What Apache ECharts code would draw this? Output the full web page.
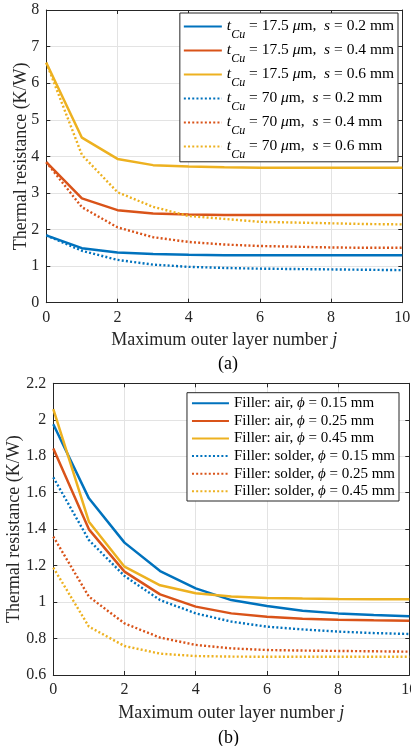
<!DOCTYPE html>
<html>
<head>
<meta charset="utf-8">
<script src="https://cdn.jsdelivr.net/npm/echarts@6/dist/echarts.min.js"></script>
<style>
html,body{margin:0;padding:0;background:#fff;}
#chart{width:411px;height:746px;}
</style>
</head>
<body>
<div id="chart"></div>
<script>
// ---- data ----
const jValues = [0, 1, 2, 3, 4, 5, 6, 7, 8, 9, 10];

// (a) thermal resistance vs j, by copper thickness tCu and spacing s
const topT = ['17.5', '17.5', '17.5', '70', '70', '70'];
const topS = ['0.2', '0.4', '0.6', '0.2', '0.4', '0.6'];
const a_t175_s02 = [1.84, 1.49, 1.37, 1.33, 1.31, 1.30, 1.30, 1.30, 1.30, 1.30, 1.30];
const a_t175_s04 = [3.84, 2.85, 2.53, 2.44, 2.41, 2.40, 2.40, 2.40, 2.40, 2.40, 2.40];
const a_t175_s06 = [6.56, 4.51, 3.93, 3.76, 3.72, 3.70, 3.69, 3.69, 3.69, 3.69, 3.69];
const a_t70_s02  = [1.84, 1.42, 1.17, 1.04, 0.98, 0.95, 0.93, 0.92, 0.91, 0.90, 0.89];
const a_t70_s04  = [3.84, 2.61, 2.06, 1.79, 1.66, 1.59, 1.55, 1.53, 1.51, 1.50, 1.50];
const a_t70_s06  = [6.56, 4.04, 3.02, 2.62, 2.37, 2.29, 2.21, 2.19, 2.17, 2.15, 2.14];
const topYTicks = {min: 0, max: 8, interval: 1};

// (b) thermal resistance vs j, by filler and diameter phi
const botFiller = ['air', 'air', 'air', 'solder', 'solder', 'solder'];
const botPhi = ['0.15', '0.25', '0.45', '0.15', '0.25', '0.45'];
const b_air_015 = [1.975, 1.569, 1.326, 1.170, 1.075, 1.011, 0.978, 0.953, 0.938, 0.929, 0.922];
const b_air_025 = [1.843, 1.399, 1.167, 1.042, 0.975, 0.938, 0.920, 0.909, 0.903, 0.900, 0.898];
const b_air_045 = [2.059, 1.441, 1.194, 1.092, 1.048, 1.030, 1.022, 1.019, 1.017, 1.016, 1.015];
const b_sol_015 = [1.684, 1.340, 1.143, 1.011, 0.938, 0.893, 0.865, 0.850, 0.838, 0.830, 0.825];
const b_sol_025 = [1.359, 1.030, 0.883, 0.805, 0.765, 0.746, 0.737, 0.734, 0.732, 0.730, 0.728];
const b_sol_045 = [1.189, 0.865, 0.759, 0.717, 0.704, 0.701, 0.700, 0.700, 0.700, 0.700, 0.700];
const botYTicks = {min: 0.6, max: 2.2, interval: 0.2};
const xTicks = {min: 0, max: 10, interval: 2};

// ---- styling ----
const FONT = "'Liberation Serif', 'Times New Roman', serif";
const COLORS = ['#0072BD', '#D95319', '#EDB120'];
const AX = '#262626';
const GRIDC = '#e3e3e3';

const topSeriesData = [a_t175_s02, a_t175_s04, a_t175_s06, a_t70_s02, a_t70_s04, a_t70_s06];
const botSeriesData = [b_air_015, b_air_025, b_air_045, b_sol_015, b_sol_025, b_sol_045];
const topNames = topT.map((t, k) => 'tCu = ' + t + ' μm, s = ' + topS[k] + ' mm');
const botNames = botFiller.map((f, k) => 'Filler: ' + f + ', ϕ = ' + botPhi[k] + ' mm');

function pairs(arr) { return jValues.map((j, k) => [j, arr[k]]); }

function mkX(gi, pos, main) {
  return {
    type: 'value', gridIndex: gi, position: pos,
    min: xTicks.min, max: xTicks.max, interval: xTicks.interval,
    axisLine: {show: true, onZero: false, lineStyle: {color: AX, width: 1}},
    axisTick: {show: true, inside: true, length: 4, lineStyle: {color: AX}},
    axisLabel: {show: main, color: AX, fontFamily: FONT, fontSize: 16, margin: 7},
    splitLine: {show: main, lineStyle: {color: GRIDC, width: 1}},
    name: main ? 'Maximum outer layer number {i|j}' : '',
    nameLocation: 'middle', nameGap: 29, nameMoveOverlap: false,
    nameTextStyle: {color: AX, fontFamily: FONT, fontSize: 18,
      rich: {i: {fontStyle: 'italic', fontFamily: FONT, fontSize: 18, color: AX}}}
  };
}
function mkY(gi, pos, main, t, gap) {
  return {
    type: 'value', gridIndex: gi, position: pos,
    min: t.min, max: t.max, interval: t.interval,
    axisLine: {show: true, onZero: false, lineStyle: {color: AX, width: 1}},
    axisTick: {show: true, inside: true, length: 4, lineStyle: {color: AX}},
    axisLabel: {show: main, color: AX, fontFamily: FONT, fontSize: 16, margin: 7},
    splitLine: {show: main, lineStyle: {color: GRIDC, width: 1}},
    name: main ? 'Thermal resistance (K/W)' : '',
    nameLocation: 'middle', nameGap: gap, nameMoveOverlap: false,
    nameTextStyle: {color: AX, fontFamily: FONT, fontSize: 18}
  };
}

const series = [];
topSeriesData.forEach((arr, k) => {
  series.push({
    name: topNames[k], type: 'line', xAxisIndex: 0, yAxisIndex: 0,
    data: pairs(arr), symbol: 'none', showSymbol: false,
    lineStyle: {color: COLORS[k % 3], width: k < 3 ? 2.5 : 2.4, type: k < 3 ? 'solid' : [2, 2.2]},
    itemStyle: {color: COLORS[k % 3]}
  });
});
botSeriesData.forEach((arr, k) => {
  series.push({
    name: botNames[k], type: 'line', xAxisIndex: 2, yAxisIndex: 2,
    data: pairs(arr), symbol: 'none', showSymbol: false,
    lineStyle: {color: COLORS[k % 3], width: k < 3 ? 2.5 : 2.4, type: k < 3 ? 'solid' : [2, 2.2]},
    itemStyle: {color: COLORS[k % 3]}
  });
});

const txtA = {fontFamily: FONT, fontSize: 15.5, color: '#000', lineHeight: 16};
const txtB = {fontFamily: FONT, fontSize: 15, color: '#000', lineHeight: 16};
const hiddenSymbol = {color: 'rgba(0,0,0,0)', borderWidth: 0, opacity: 0};

const option = {
  animation: false,
  backgroundColor: '#fff',
  title: [
    {text: '(a)', left: 213, top: 350, textStyle: {fontFamily: FONT, fontSize: 18, fontWeight: 'normal', color: '#000'}},
    {text: '(b)', left: 213, top: 724, textStyle: {fontFamily: FONT, fontSize: 18, fontWeight: 'normal', color: '#000'}}
  ],
  grid: [
    {left: 46.3, right: 8.7, top: 10, height: 292.7, outerBoundsMode: 'none', containLabel: false},
    {left: 53.3, right: 1.7, top: 383.3, height: 291.7, outerBoundsMode: 'none', containLabel: false}
  ],
  xAxis: [mkX(0, 'bottom', true), mkX(0, 'top', false), mkX(1, 'bottom', true), mkX(1, 'top', false)],
  yAxis: [mkY(0, 'left', true, topYTicks, 16), mkY(0, 'right', false, topYTicks, 16),
          mkY(1, 'left', true, botYTicks, 30), mkY(1, 'right', false, botYTicks, 30)],
  legend: [
    {
      data: topNames, orient: 'vertical', right: 13, top: 13,
      itemWidth: 38, itemHeight: 14, itemGap: -4.0,
      padding: [-0.6, 4, 1.4, 3],
      backgroundColor: '#fff', borderColor: AX, borderWidth: 1, borderRadius: 0,
      selectedMode: false,
      itemStyle: hiddenSymbol,
      formatter: function (name) {
        const k = topNames.indexOf(name);
        return '{i|t}{sub|Cu}{n| = ' + topT[k] + ' }{i|μ}{n|m,  }{i|s}{n| = ' + topS[k] + ' mm}';
      },
      textStyle: {fontFamily: FONT, fontSize: 15.5, color: '#000',
        rich: {
          n: txtA,
          i: Object.assign({}, txtA, {fontStyle: 'italic'}),
          sub: {fontFamily: FONT, fontSize: 12, fontStyle: 'italic', color: '#000', lineHeight: 12, padding: [16, 0, 0, 0]}
        }}
    },
    {
      data: botNames, orient: 'vertical', right: 12, top: 392.7,
      itemWidth: 37, itemHeight: 14, itemGap: 2.6,
      padding: [3.1, 4, 2.2, 4],
      backgroundColor: '#fff', borderColor: AX, borderWidth: 1, borderRadius: 0,
      selectedMode: false,
      itemStyle: hiddenSymbol,
      formatter: function (name) {
        const k = botNames.indexOf(name);
        return '{n|Filler: ' + botFiller[k] + ', }{i|ϕ}{n| = ' + botPhi[k] + ' mm}';
      },
      textStyle: {fontFamily: FONT, fontSize: 15, color: '#000',
        rich: {n: txtB, i: Object.assign({}, txtB, {fontStyle: 'italic'})}}
    }
  ],
  series: series
};

const chart = echarts.init(document.getElementById('chart'), null, {renderer: 'canvas'});
chart.setOption(option);
</script>
</body>
</html>
